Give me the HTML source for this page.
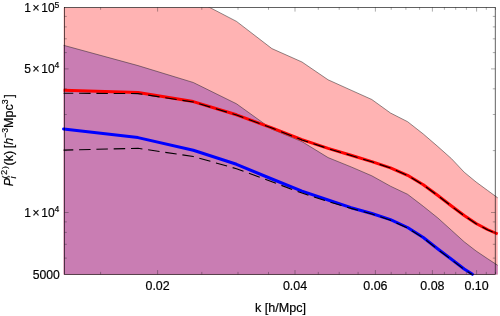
<!DOCTYPE html>
<html><head><meta charset="utf-8"><title>plot</title>
<style>
html,body{margin:0;padding:0;background:#fff;}
svg{display:block;font-family:"Liberation Sans",sans-serif;}
</style></head><body>
<svg width="500" height="316" viewBox="0 0 500 316">
<rect width="500" height="316" fill="#fff"/>
<defs><filter id="gf" filterUnits="userSpaceOnUse" x="0" y="0" width="500" height="316"><feOffset dx="0" dy="0"/></filter><clipPath id="c"><rect x="61.400000000000006" y="7.4" width="438.79999999999995" height="267.1"/></clipPath>
<clipPath id="c2"><rect x="61.400000000000006" y="5.4" width="438.79999999999995" height="271.90000000000003"/></clipPath></defs>
<g clip-path="url(#c)">
<polygon points="63.6,-60.0 138.0,-30.0 193.3,-1.1 236.5,21.4 271.9,48.6 302.0,62.0 328.1,79.8 351.1,90.2 371.8,99.5 390.5,113.0 407.6,121.7 423.3,134.0 437.9,146.6 451.5,158.7 464.2,172.2 476.1,182.0 487.4,190.3 497.7,197.8 497.7,294.3 63.6,294.3" fill="#FFB3B3"/>
<polygon points="63.6,45.3 138.0,65.6 193.3,82.5 236.5,103.8 271.9,129.2 302.0,141.6 328.1,157.6 351.1,166.9 371.8,175.8 390.5,186.2 407.6,194.3 423.3,206.3 437.9,218.0 451.5,230.3 464.2,241.8 476.1,251.0 487.4,258.6 497.7,265.3 497.7,294.3 63.6,294.3" fill="#C97DB3"/>
<polyline points="63.6,-60.0 138.0,-30.0 193.3,-1.1 236.5,21.4 271.9,48.6 302.0,62.0 328.1,79.8 351.1,90.2 371.8,99.5 390.5,113.0 407.6,121.7 423.3,134.0 437.9,146.6 451.5,158.7 464.2,172.2 476.1,182.0 487.4,190.3 497.7,197.8" fill="none" stroke="#222" stroke-width="0.5"/>
<polyline points="63.6,45.3 138.0,65.6 193.3,82.5 236.5,103.8 271.9,129.2 302.0,141.6 328.1,157.6 351.1,166.9 371.8,175.8 390.5,186.2 407.6,194.3 423.3,206.3 437.9,218.0 451.5,230.3 464.2,241.8 476.1,251.0 487.4,258.6 497.7,265.3" fill="none" stroke="#222" stroke-width="0.5"/>
</g>
<g clip-path="url(#c2)" fill="none" stroke-linejoin="round">
<polyline points="63.6,128.9 138.0,137.6 193.3,150.3 236.5,164.3 271.9,179.0 302.0,191.2 328.1,200.0 351.1,207.7 371.8,213.5 390.5,219.7 407.6,227.5 423.3,237.5 437.9,249.0 451.5,259.3 464.2,269.0 472.5,274.3" stroke="#0000FF" stroke-width="3" stroke-linecap="round"/>
<polyline points="63.6,90.3 138.0,92.4 193.3,101.6 236.5,114.8 271.9,127.9 302.0,139.7 328.1,148.4 351.1,155.3 371.8,161.6 390.5,167.8 407.6,175.3 423.3,184.7 437.9,195.5 451.5,206.0 464.2,215.5 476.1,223.5 487.4,229.5 497.7,234.0" stroke="#FF0000" stroke-width="3"/>
<polyline points="63.6,150.1 138.0,148.3 193.3,156.5 236.5,168.7 271.9,181.8 302.0,193.1 328.1,201.5 351.1,208.4 371.8,214.0 390.5,220.2 407.6,228.0 423.3,238.0 437.9,249.5 451.5,259.8 464.2,269.5 471.7,274.3" stroke="#000" stroke-width="1.1" stroke-dasharray="11.5 5.8" stroke-dashoffset="1.8"/>
<polyline points="63.6,93.2 138.0,93.6 193.3,102.0 236.5,115.0 271.9,128.1 302.0,139.9 328.1,148.6 351.1,155.5 371.8,161.8 390.5,168.0 407.6,175.5 423.3,184.9 437.9,195.7 451.5,206.2 464.2,215.7 476.1,223.7 487.4,229.7 497.7,234.2" stroke="#000" stroke-width="1.1" stroke-dasharray="11.5 5.8" stroke-dashoffset="1.8"/>
</g>
<g stroke="#222" stroke-width="0.5" stroke-opacity="0.75" fill="none">
<line x1="100.6" y1="274.3" x2="100.6" y2="271.90000000000003"/>
<line x1="100.6" y1="7.4" x2="100.6" y2="9.8"/>
<line x1="157.6" y1="274.3" x2="157.6" y2="270.1"/>
<line x1="157.6" y1="7.4" x2="157.6" y2="11.600000000000001"/>
<line x1="201.8" y1="274.3" x2="201.8" y2="271.90000000000003"/>
<line x1="201.8" y1="7.4" x2="201.8" y2="9.8"/>
<line x1="238.0" y1="274.3" x2="238.0" y2="271.90000000000003"/>
<line x1="238.0" y1="7.4" x2="238.0" y2="9.8"/>
<line x1="268.5" y1="274.3" x2="268.5" y2="271.90000000000003"/>
<line x1="268.5" y1="7.4" x2="268.5" y2="9.8"/>
<line x1="295.0" y1="274.3" x2="295.0" y2="270.1"/>
<line x1="295.0" y1="7.4" x2="295.0" y2="11.600000000000001"/>
<line x1="318.3" y1="274.3" x2="318.3" y2="271.90000000000003"/>
<line x1="318.3" y1="7.4" x2="318.3" y2="9.8"/>
<line x1="339.2" y1="274.3" x2="339.2" y2="271.90000000000003"/>
<line x1="339.2" y1="7.4" x2="339.2" y2="9.8"/>
<line x1="358.1" y1="274.3" x2="358.1" y2="271.90000000000003"/>
<line x1="358.1" y1="7.4" x2="358.1" y2="9.8"/>
<line x1="375.4" y1="274.3" x2="375.4" y2="270.1"/>
<line x1="375.4" y1="7.4" x2="375.4" y2="11.600000000000001"/>
<line x1="391.2" y1="274.3" x2="391.2" y2="271.90000000000003"/>
<line x1="391.2" y1="7.4" x2="391.2" y2="9.8"/>
<line x1="405.9" y1="274.3" x2="405.9" y2="271.90000000000003"/>
<line x1="405.9" y1="7.4" x2="405.9" y2="9.8"/>
<line x1="419.6" y1="274.3" x2="419.6" y2="271.90000000000003"/>
<line x1="419.6" y1="7.4" x2="419.6" y2="9.8"/>
<line x1="432.4" y1="274.3" x2="432.4" y2="270.1"/>
<line x1="432.4" y1="7.4" x2="432.4" y2="11.600000000000001"/>
<line x1="444.4" y1="274.3" x2="444.4" y2="271.90000000000003"/>
<line x1="444.4" y1="7.4" x2="444.4" y2="9.8"/>
<line x1="455.7" y1="274.3" x2="455.7" y2="271.90000000000003"/>
<line x1="455.7" y1="7.4" x2="455.7" y2="9.8"/>
<line x1="466.4" y1="274.3" x2="466.4" y2="271.90000000000003"/>
<line x1="466.4" y1="7.4" x2="466.4" y2="9.8"/>
<line x1="476.6" y1="274.3" x2="476.6" y2="270.1"/>
<line x1="476.6" y1="7.4" x2="476.6" y2="11.600000000000001"/>
<line x1="486.3" y1="274.3" x2="486.3" y2="271.90000000000003"/>
<line x1="486.3" y1="7.4" x2="486.3" y2="9.8"/>
<line x1="495.5" y1="274.3" x2="495.5" y2="271.90000000000003"/>
<line x1="495.5" y1="7.4" x2="495.5" y2="9.8"/>
<line x1="64.4" y1="16.4" x2="66.80000000000001" y2="16.4"/>
<line x1="495.2" y1="16.4" x2="492.8" y2="16.4"/>
<line x1="64.4" y1="26.9" x2="66.80000000000001" y2="26.9"/>
<line x1="495.2" y1="26.9" x2="492.8" y2="26.9"/>
<line x1="64.4" y1="38.8" x2="66.80000000000001" y2="38.8"/>
<line x1="495.2" y1="38.8" x2="492.8" y2="38.8"/>
<line x1="64.4" y1="52.6" x2="66.80000000000001" y2="52.6"/>
<line x1="495.2" y1="52.6" x2="492.8" y2="52.6"/>
<line x1="64.4" y1="68.9" x2="68.60000000000001" y2="68.9"/>
<line x1="495.2" y1="68.9" x2="491.0" y2="68.9"/>
<line x1="64.4" y1="88.8" x2="66.80000000000001" y2="88.8"/>
<line x1="495.2" y1="88.8" x2="492.8" y2="88.8"/>
<line x1="64.4" y1="114.5" x2="66.80000000000001" y2="114.5"/>
<line x1="495.2" y1="114.5" x2="492.8" y2="114.5"/>
<line x1="64.4" y1="150.6" x2="66.80000000000001" y2="150.6"/>
<line x1="495.2" y1="150.6" x2="492.8" y2="150.6"/>
<line x1="64.4" y1="212.5" x2="68.60000000000001" y2="212.5"/>
<line x1="495.2" y1="212.5" x2="491.0" y2="212.5"/>
<line x1="64.4" y1="221.9" x2="66.80000000000001" y2="221.9"/>
<line x1="495.2" y1="221.9" x2="492.8" y2="221.9"/>
<line x1="64.4" y1="232.4" x2="66.80000000000001" y2="232.4"/>
<line x1="495.2" y1="232.4" x2="492.8" y2="232.4"/>
<line x1="64.4" y1="244.3" x2="66.80000000000001" y2="244.3"/>
<line x1="495.2" y1="244.3" x2="492.8" y2="244.3"/>
<line x1="64.4" y1="258.1" x2="66.80000000000001" y2="258.1"/>
<line x1="495.2" y1="258.1" x2="492.8" y2="258.1"/>
</g>
<rect x="64.4" y="7.4" width="430.79999999999995" height="266.90000000000003" stroke="#000" stroke-width="0.62" fill="none"/>
<g fill="#000" stroke="#000" stroke-width="0.18" filter="url(#gf)">
<text x="157.6" y="289.8" text-anchor="middle" font-size="12.45">0.02</text>
<text x="295.0" y="289.8" text-anchor="middle" font-size="12.45">0.04</text>
<text x="375.4" y="289.8" text-anchor="middle" font-size="12.45">0.06</text>
<text x="432.4" y="289.8" text-anchor="middle" font-size="12.45">0.08</text>
<text x="476.6" y="289.8" text-anchor="middle" font-size="12.45">0.10</text>

<text x="280.5" y="311.5" text-anchor="middle" font-size="12.6">k [h/Mpc]</text>
<text x="59.4" y="12.3" text-anchor="end" font-size="12">1<tspan dx="1.7">×</tspan><tspan dx="1.7">10</tspan><tspan font-size="8.6" dy="-4.6">5</tspan></text>
<text x="59.4" y="72.9" text-anchor="end" font-size="12">5<tspan dx="1.7">×</tspan><tspan dx="1.7">10</tspan><tspan font-size="8.6" dy="-4.6">4</tspan></text>
<text x="59.4" y="216.9" text-anchor="end" font-size="12">1<tspan dx="1.7">×</tspan><tspan dx="1.7">10</tspan><tspan font-size="8.6" dy="-4.6">4</tspan></text>

<text x="59.8" y="278.8" text-anchor="end" font-size="12.2">5000</text>
<g transform="translate(13.2,186.3) rotate(-90)" font-size="12.5">
<text x="0" y="0" font-style="italic">P</text>
<text x="7.9" y="2.6" font-size="8.8" font-style="italic">i</text>
<text transform="translate(7.9,-6.6) scale(1,0.86)" font-size="8.8">(</text>
<text x="11.2" y="-6.0" font-size="9.2">2</text>
<text transform="translate(17.4,-6.6) scale(1,0.86)" font-size="8.8">)</text>
<text x="20.9" y="0">(k) <tspan dx="-1.0">[</tspan><tspan font-style="italic">h</tspan><tspan font-size="8.8" dy="-5.5">−3</tspan><tspan dy="5.5">Mpc</tspan><tspan font-size="8.8" dy="-5.5">3</tspan><tspan dy="5.5" dx="1.6">]</tspan></text>
</g>
</g>
</svg>
</body></html>
